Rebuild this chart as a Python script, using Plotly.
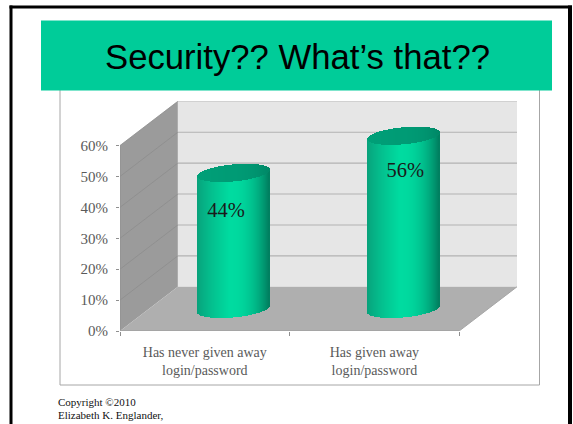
import plotly.graph_objects as go

# ---------- data ----------
categories = ["Has never given away<br>login/password", "Has given away<br>login/password"]
values = [44, 56]
value_labels = ["44%", "56%"]
y_ticks = [0, 10, 20, 30, 40, 50, 60]
y_tick_labels = ["0%", "10%", "20%", "30%", "40%", "50%", "60%"]
title = "Security?? What’s that??"
footer = ["Copyright ©2010", "Elizabeth K. Englander,", "Ph.D."]

# ---------- style / layout constants ----------
W, H = 573, 424
PL, PR, PT, PB = 120, 517, 101, 331         # plot area in page pixels
DEPTH_X, DEPTH_Y = 0.341, 14.3              # 3-D depth in axis units
N_CAT = len(categories)
X_MAX = N_CAT + DEPTH_X
Y_MAX = 60 + DEPTH_Y + 0.1
HALF_W = 0.212                              # cylinder half width (category units)
RY_UNITS, TILT_UNITS = 8.5 / 3.09, 3.3 / 3.09
LABEL_DX = [-0.045, 0.012]
LABEL_DY = [-5.4, -4.5]
STRIPS = 72
SERIF = "Liberation Serif, Times New Roman, serif"
SANS = "Liberation Sans, Arial, sans-serif"
GREY_TEXT = "#5a5a5a"


def px(x):
    return (x - PL) / (PR - PL)


def py(y):
    return (PB - y) / (PB - PT)


def mix(a, b, t):
    return tuple(a[i] + (b[i] - a[i]) * t for i in range(3))


def rgb(c):
    return "rgb(%d,%d,%d)" % tuple(round(v) for v in c)


BODY_LEFT, BODY_MID, BODY_RIGHT = (8, 160, 122), (0, 219, 160), (0, 125, 94)
TOP_LEFT, TOP_MID, TOP_RIGHT = (0, 160, 120), (0, 155, 117), (0, 135, 102)


def shade(u, left, mid, right):
    pos = -0.1
    if u < pos:
        return rgb(mix(left, mid, ((u + 1) / (pos + 1)) ** 0.8))
    return rgb(mix(mid, right, ((u - pos) / (1 - pos)) ** 2.3))


fig = go.Figure()


def poly(xs, ys, fill):
    fig.add_trace(go.Scatter(x=xs, y=ys, mode="lines", fill="toself", fillcolor=fill,
                             line=dict(width=0, color=fill), hoverinfo="skip",
                             showlegend=False, cliponaxis=False))


def line(xs, ys, color, width=1.0):
    fig.add_trace(go.Scatter(x=xs, y=ys, mode="lines", line=dict(color=color, width=width),
                             hoverinfo="skip", showlegend=False, cliponaxis=False))


# walls and floor
top, dx, dy = max(y_ticks), DEPTH_X, DEPTH_Y
poly([dx, X_MAX, X_MAX, dx], [dy, dy, top + dy, top + dy], "#e6e6e6")
poly([0, dx, dx, 0], [0, dy, top + dy, top], "#9b9b9b")
poly([0, N_CAT, X_MAX, dx], [0, 0, dy, dy], "#afafaf")

# gridlines
for t in y_ticks[1:]:
    line([0, dx], [t, t + dy], "#8d8d8d", 0.8)
    line([dx, X_MAX], [t + dy, t + dy], "#c9c9c9" if t == top else "#b2b2b2", 1.1)
line([0, 0], [0, top], "#8f8f8f", 1)
line([0, N_CAT], [0, 0], "#9a9a9a", 1)
line([N_CAT, X_MAX], [0, dy], "#a6a6a6", 1)

# cylinders (on an overlaid pair of axes so they sit above the walls)
for i, v in enumerate(values):
    cx = i + 0.5 + dx / 2
    step = 2 * HALF_W / STRIPS
    xs, side_base, side_h, side_c, top_base, top_h, top_c = [], [], [], [], [], [], []
    for k in range(STRIPS):
        u = -1 + (k + 0.5) * 2 / STRIPS
        arc = (1 - u * u) ** 0.5 * RY_UNITS
        lean = u * TILT_UNITS
        y0 = dy / 2 + lean
        y1 = dy / 2 + v + lean
        xs.append(cx + u * HALF_W)
        side_base.append(y0 - arc)
        side_h.append(v)
        side_c.append(shade(u, BODY_LEFT, BODY_MID, BODY_RIGHT))
        top_base.append(y1 - arc)
        top_h.append(2 * arc)
        top_c.append(shade(u, TOP_LEFT, TOP_MID, TOP_RIGHT))
    fig.add_trace(go.Bar(x=xs, y=side_h, base=side_base, width=step * 1.25, xaxis="x2", yaxis="y2",
                         marker=dict(color=side_c, line=dict(width=0)),
                         hoverinfo="skip", showlegend=False, cliponaxis=False))
    fig.add_trace(go.Bar(x=xs, y=top_h, base=top_base, width=step * 1.25, xaxis="x2", yaxis="y2",
                         marker=dict(color=top_c, line=dict(width=0)),
                         hoverinfo="skip", showlegend=False, cliponaxis=False))

# value labels
fig.add_trace(go.Scatter(
    x=[i + 0.5 + dx / 2 + LABEL_DX[i] for i in range(N_CAT)],
    y=[values[i] + LABEL_DY[i] for i in range(N_CAT)],
    xaxis="x2", yaxis="y2",
    mode="text", text=value_labels, textposition="middle center",
    textfont=dict(family=SERIF, size=20.5, color="#1a1a1a"),
    hoverinfo="skip", showlegend=False, cliponaxis=False))

shapes = [
    # chart frame
    dict(type="rect", xref="paper", yref="paper", x0=px(60), x1=px(539.5), y0=py(385), y1=py(80),
         line=dict(color="#a6a6a6", width=1), fillcolor="white", layer="below"),
    # title band
    dict(type="rect", xref="paper", yref="paper", x0=px(41), x1=px(552), y0=py(90.5), y1=py(20.5),
         line=dict(width=0), fillcolor="#00cc99", layer="above"),
    # slide border
    dict(type="rect", xref="paper", yref="paper", x0=px(9.5), x1=px(12.5), y0=py(424), y1=py(5.5),
         line=dict(width=0), fillcolor="black", layer="above"),
    dict(type="rect", xref="paper", yref="paper", x0=px(9.5), x1=px(572), y0=py(8.5), y1=py(5.5),
         line=dict(width=0), fillcolor="black", layer="above"),
    dict(type="rect", xref="paper", yref="paper", x0=px(568), x1=px(572), y0=py(424), y1=py(5.5),
         line=dict(width=0), fillcolor="black", layer="above"),
]

annotations = [
    dict(text=title, xref="paper", yref="paper", x=px(297.5), y=py(57), showarrow=False,
         xanchor="center", yanchor="middle", font=dict(family=SANS, size=34.7, color="#000000")),
]
for txt, yp in zip(footer, [402, 415, 428]):
    annotations.append(dict(text=txt, xref="paper", yref="paper", x=px(56), y=py(yp), showarrow=False,
                            xanchor="left", yanchor="middle",
                            font=dict(family=SERIF, size=11, color="#111111")))

fig.update_layout(
    width=W, height=H,
    margin=dict(l=PL, r=W - PR, t=PT, b=H - PB, pad=0),
    paper_bgcolor="white", plot_bgcolor="rgba(0,0,0,0)",
    barmode="overlay", bargap=0, showlegend=False,
    shapes=shapes, annotations=annotations,
    xaxis=dict(range=[0, X_MAX], tickvals=[i + 0.5 for i in range(N_CAT)], ticktext=categories,
               showgrid=False, zeroline=False, showline=False, ticks="", ticklen=0,
               ticklabelstandoff=11,
               tickfont=dict(family=SERIF, size=14, color=GREY_TEXT),
               minor=dict(tickvals=list(range(N_CAT + 1)), ticks="outside", ticklen=4,
                          tickcolor="#8f8f8f", tickwidth=1, showgrid=False)),
    yaxis=dict(range=[0, Y_MAX], tickvals=y_ticks, ticktext=y_tick_labels,
               showgrid=False, zeroline=False, showline=False,
               ticks="outside", ticklen=3, tickcolor="#8f8f8f", tickwidth=1,
               ticklabelstandoff=5,
               tickfont=dict(family=SERIF, size=15, color=GREY_TEXT)),
    xaxis2=dict(range=[0, X_MAX], overlaying="x", visible=False, matches="x"),
    yaxis2=dict(range=[0, Y_MAX], overlaying="y", visible=False, matches="y"),
)

fig.write_html("out.html", config=dict(displayModeBar=False),
               post_script="document.body.style.margin='0';")
